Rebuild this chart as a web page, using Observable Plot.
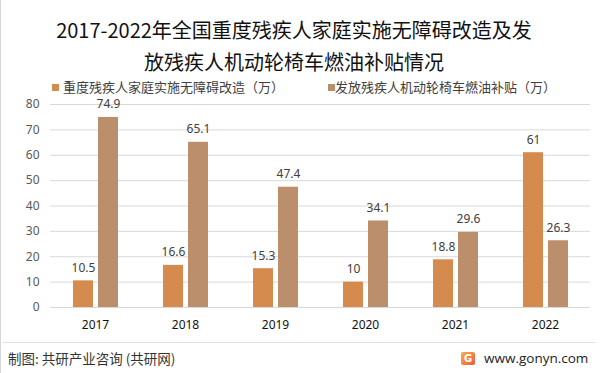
<!DOCTYPE html>
<html><head><meta charset="utf-8">
<script src="https://cdn.jsdelivr.net/npm/d3@7"></script>
<script src="https://cdn.jsdelivr.net/npm/@observablehq/plot@0.6"></script>
<style>
body{margin:0;background:#fff;font-family:"Noto Sans CJK SC","Noto Sans",sans-serif;}
#wrap{position:relative;width:602px;height:373px;overflow:hidden;background:#fff;}
#edge{position:absolute;left:0;top:0;width:1px;height:373px;background:#d6d6d6;}
#title{position:absolute;left:0;top:14px;width:588px;text-align:center;font-size:20px;line-height:32px;color:#111;}
.lg{position:absolute;top:79px;font-size:13px;line-height:16px;color:#404040;white-space:nowrap;}
.sq{position:absolute;width:7px;height:7px;top:84px;}
#chart{position:absolute;left:0;top:95px;}
#sep{position:absolute;left:2px;top:342px;width:594px;height:1px;background:#e4e4e4;}
#src{position:absolute;left:8px;top:349px;font-size:13.5px;line-height:18px;color:#333;white-space:nowrap;}
#site{position:absolute;left:484px;top:349px;font-size:13.5px;line-height:18px;color:#222;white-space:nowrap;font-family:"Open Sans","DejaVu Sans",sans-serif;}
#logo{position:absolute;left:461px;top:352px;width:14px;height:13px;border-radius:2px;background:linear-gradient(135deg,#f6b04a,#ee5a3a);color:#fff;font:bold 10px/13px "DejaVu Sans",sans-serif;text-align:center;}
</style></head><body>
<div id="wrap">
  <div id="edge"></div>
  <div id="title"></div>
  <div id="legend"></div>
  <div id="chart"></div>
  <div id="sep"></div>
  <div id="src"></div>
  <div id="logo">G</div>
  <div id="site"></div>
</div>
<script>
const titleLines = ["2017-2022年全国重度残疾人家庭实施无障碍改造及发", "放残疾人机动轮椅车燃油补贴情况"];
const years = ["2017", "2018", "2019", "2020", "2021", "2022"];
const seriesNames = ["重度残疾人家庭实施无障碍改造（万）", "发放残疾人机动轮椅车燃油补贴（万）"];
const renovation = [10.5, 16.6, 15.3, 10, 18.8, 61];
const subsidy = [74.9, 65.1, 47.4, 34.1, 29.6, 26.3];
const seriesColors = ["#D58B4D", "#BB8E6C"];
const yTicks = [0, 10, 20, 30, 40, 50, 60, 70, 80];
const sourceText = "制图: 共研产业咨询 (共研网)";
const siteText = "www.gonyn.com";

document.getElementById("title").innerHTML = titleLines.join("<br>");
document.getElementById("src").textContent = sourceText;
document.getElementById("site").textContent = siteText;

const legend = document.getElementById("legend");
const legendX = [[52, 63], [328, 335]];
seriesNames.forEach((name, i) => {
  const sq = document.createElement("div");
  sq.className = "sq";
  sq.style.left = legendX[i][0] + "px";
  sq.style.background = seriesColors[i];
  legend.appendChild(sq);
  const t = document.createElement("div");
  t.className = "lg";
  t.style.left = legendX[i][1] + "px";
  t.textContent = name;
  legend.appendChild(t);
});

const data = [];
years.forEach((y, i) => {
  data.push({year: y, series: seriesNames[0], value: renovation[i]});
  data.push({year: y, series: seriesNames[1], value: subsidy[i]});
});

const chart = Plot.plot({
  width: 602,
  height: 240,
  marginTop: 9,
  marginBottom: 28,
  marginLeft: 50,
  marginRight: 12,
  style: {fontFamily: "'Noto Sans', 'DejaVu Sans', sans-serif", fontSize: "12px", background: "transparent"},
  fx: {domain: years, padding: 0, label: null},
  x: {domain: seriesNames, paddingInner: 0.2, paddingOuter: 0.9, axis: null},
  y: {domain: [0, 80], label: null},
  color: {domain: seriesNames, range: seriesColors},
  marks: [
    Plot.gridY(yTicks, {stroke: "#d9d9d9", strokeOpacity: 1}),
    Plot.axisY(yTicks, {tickSize: 0, tickPadding: 11, fontSize: 12, fill: "#595959", label: null}),
    Plot.axisFx({anchor: "bottom", tickSize: 0, tickPadding: 13, fontSize: 12, fill: "#111", label: null}),
    Plot.barY(data, {fx: "year", x: "series", y: "value", fill: "series"}),
    Plot.text(data, {fx: "year", x: "series", y: "value", text: d => String(d.value), dy: -13, fontSize: 12, fill: "#404040"})
  ]
});
document.getElementById("chart").appendChild(chart);
</script>
</body></html>
